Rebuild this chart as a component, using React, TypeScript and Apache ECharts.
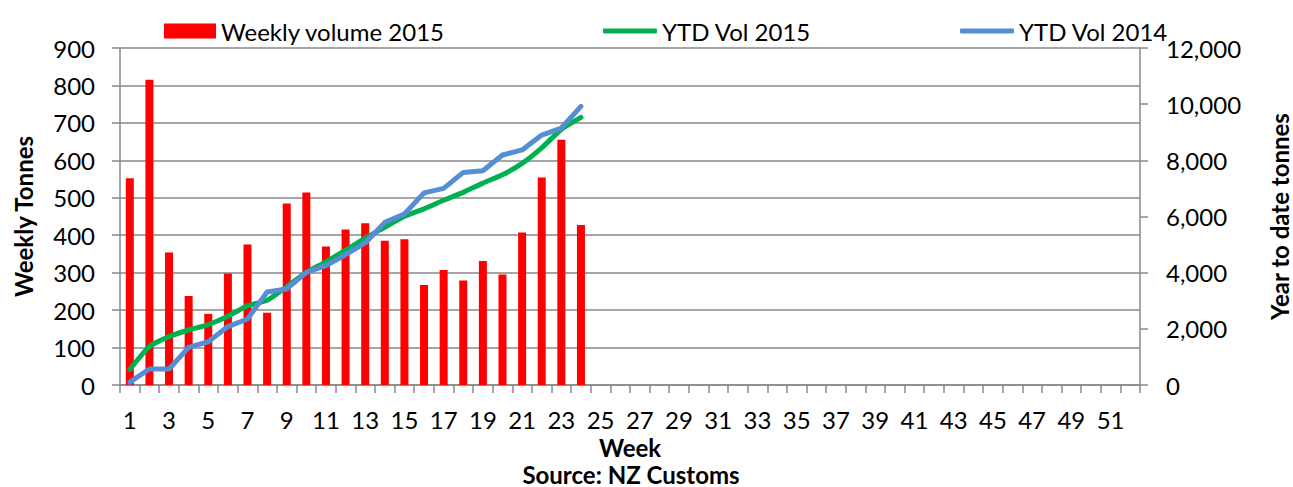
import React, { useEffect, useRef } from "react";
import * as echarts from "echarts";

const weeks: string[] = Array.from({ length: 52 }, (_, i) => String(i + 1));
const weeklyVolume2015 = [552, 815, 354, 238, 190, 298, 375, 193, 485, 514, 370, 415, 432, 385, 389, 267, 307, 279, 331, 295, 407, 554, 655, 427];
const ytdVol2015 = [552, 1367, 1721, 1959, 2149, 2447, 2822, 3015, 3500, 4014, 4384, 4799, 5231, 5616, 6005, 6272, 6579, 6858, 7189, 7484, 7891, 8445, 9100, 9527];
const ytdVol2014 = [100, 570, 570, 1340, 1540, 2080, 2350, 3310, 3420, 4010, 4250, 4640, 5060, 5790, 6090, 6840, 7000, 7570, 7630, 8190, 8370, 8900, 9150, 9920];

const FONT = "Lato";
const GRID_COLOR = "#898989";
const FS = 24;

export default function App() {
  const ref = useRef<HTMLDivElement>(null);
  useEffect(() => {
    if (!ref.current) return;
    const chart = echarts.init(ref.current, undefined, { renderer: "svg" });
    const legendText = { fontFamily: FONT, fontSize: FS, color: "#000", lineHeight: 26 };
    const titleText = { fontFamily: FONT, fontSize: FS, fontWeight: "bold", color: "#000", lineHeight: 22 };
    chart.setOption({
      animation: false,
      textStyle: { fontFamily: FONT },
      legend: [
        { data: ["Weekly volume 2015"], left: 159, top: 13, itemWidth: 52, itemHeight: 15, itemGap: 4, icon: "rect", textStyle: legendText, selectedMode: false },
        { data: ["YTD Vol 2015"], left: 598, top: 13, itemWidth: 54, itemHeight: 5, icon: "roundRect", textStyle: legendText, selectedMode: false },
        { data: ["YTD Vol 2014"], left: 955, top: 13, itemWidth: 54, itemHeight: 5, icon: "roundRect", textStyle: legendText, selectedMode: false },
      ],
      grid: { left: 120, right: 153, top: 48, bottom: 102, outerBoundsMode: "none", containLabel: false },
      xAxis: {
        type: "category",
        data: weeks,
        boundaryGap: true,
        name: "Week",
        nameLocation: "middle",
        nameGap: 46,
        nameTextStyle: titleText,
        axisLine: { lineStyle: { color: GRID_COLOR, width: 1.5 } },
        axisTick: { show: true, interval: 0, length: 8, lineStyle: { color: GRID_COLOR, width: 1.5 } },
        axisLabel: { interval: 1, margin: 22, fontFamily: FONT, fontSize: FS, color: "#000" },
        splitLine: { show: false },
      },
      yAxis: [
        {
          type: "value",
          min: 0,
          max: 900,
          interval: 100,
          name: "Weekly Tonnes",
          nameLocation: "middle",
          nameGap: 86,
          nameTextStyle: titleText,
          axisLine: { show: true, lineStyle: { color: GRID_COLOR, width: 1.5 } },
          axisTick: { show: true, length: 8, lineStyle: { color: GRID_COLOR, width: 1.5 } },
          axisLabel: { margin: 25, fontFamily: FONT, fontSize: FS, color: "#000" },
          splitLine: { show: true, lineStyle: { color: GRID_COLOR, width: 1.5 } },
        },
        {
          type: "value",
          min: 0,
          max: 12000,
          interval: 2000,
          position: "right",
          name: "Year to date tonnes",
          nameLocation: "middle",
          nameGap: 128,
          nameRotate: 90,
          nameTextStyle: titleText,
          axisLine: { show: true, lineStyle: { color: GRID_COLOR, width: 1.5 } },
          axisTick: { show: true, length: 8, lineStyle: { color: GRID_COLOR, width: 1.5 } },
          axisLabel: {
            margin: 26,
            fontFamily: FONT,
            fontSize: FS,
            color: "#000",
            formatter: (v: number) => v.toLocaleString("en-US"),
          },
          splitLine: { show: false },
        },
      ],
      graphic: [
        {
          type: "text",
          x: 631,
          y: 474,
          style: { text: "Source: NZ Customs", fontFamily: FONT, fontSize: FS, fontWeight: "bold", fill: "#000", align: "center", verticalAlign: "middle", lineHeight: 22 },
        },
      ],
      series: [
        {
          name: "Weekly volume 2015",
          type: "bar",
          yAxisIndex: 0,
          data: weeklyVolume2015,
          barWidth: 8,
          itemStyle: { color: "#FF0000" },
        },
        {
          name: "YTD Vol 2015",
          type: "line",
          yAxisIndex: 1,
          data: ytdVol2015,
          symbol: "none",
          showSymbol: false,
          smooth: 0.2,
          itemStyle: { color: "#00B050" },
          lineStyle: { color: "#00B050", width: 5, cap: "round", join: "round" },
        },
        {
          name: "YTD Vol 2014",
          type: "line",
          yAxisIndex: 1,
          data: ytdVol2014,
          symbol: "none",
          showSymbol: false,
          itemStyle: { color: "#558ED5" },
          lineStyle: { color: "#558ED5", width: 5, cap: "round", join: "round" },
        },
      ],
    });
    return () => chart.dispose();
  }, []);
  return <div ref={ref} style={{ position: "fixed", left: 0, top: 0, width: 1293, height: 487, background: "#fff" }} />;
}
